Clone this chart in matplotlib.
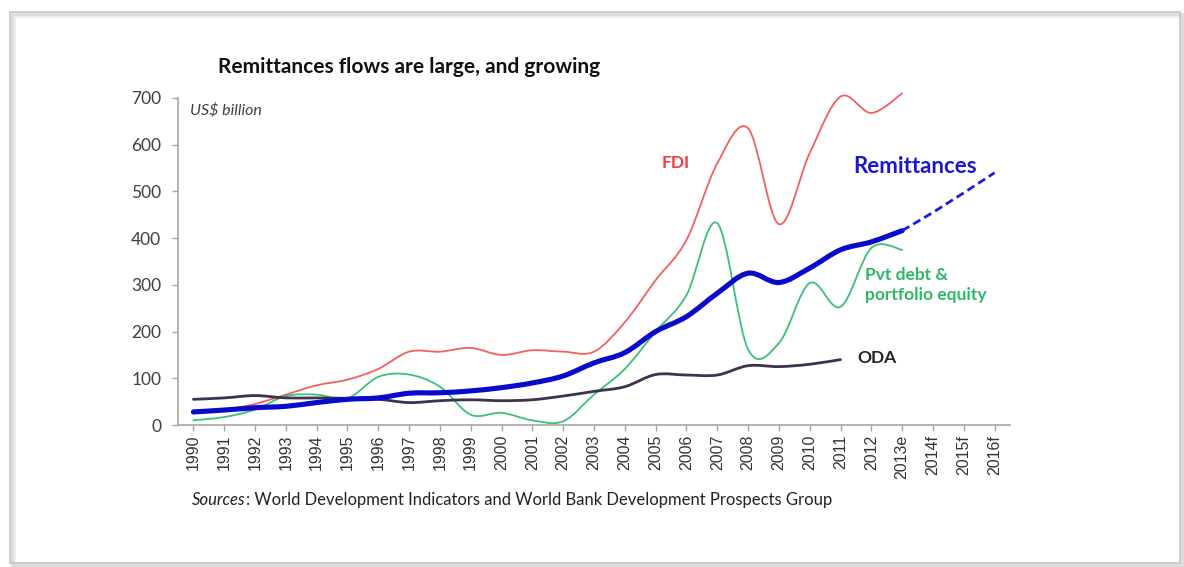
import numpy as np
import matplotlib.pyplot as plt
from matplotlib.path import Path
from matplotlib.patches import PathPatch, Rectangle

# Annual flows to developing countries, US$ billion
years = ['1990', '1991', '1992', '1993', '1994', '1995', '1996', '1997', '1998',
         '1999', '2000', '2001', '2002', '2003', '2004', '2005', '2006', '2007',
         '2008', '2009', '2010', '2011', '2012', '2013e', '2014f', '2015f', '2016f']

remittances = [28, 32, 37, 40, 48, 55, 58, 68, 69, 73, 80, 90, 105, 133, 155,
               200, 232, 282, 325, 305, 336, 375, 392, 416]
remit_forecast = [416, 455, 497, 540]   # 2013e .. 2016f
fdi = [25, 32, 45, 65, 85, 97, 120, 157, 157, 165, 150, 160, 157, 157, 220,
       310, 396, 560, 635, 430, 582, 703, 668, 710]
pvt_debt = [10, 17, 33, 62, 65, 57, 103, 108, 82, 22, 26, 10, 8, 65, 120,
            200, 278, 432, 162, 175, 304, 253, 379, 375]
oda = [55, 58, 63, 58, 58, 57, 55, 48, 52, 54, 52, 54, 62, 72, 82,
       108, 107, 107, 127, 125, 130, 140]

FONT = 'Lato'


def smooth_path(x, y):
    # Bezier segments through every point (tension 1/6), like a smoothed office chart line
    x = np.asarray(x, float)
    y = np.asarray(y, float)
    pts = np.column_stack([x, y])
    n = len(pts)
    verts = [pts[0]]
    codes = [Path.MOVETO]
    for i in range(n - 1):
        p0 = pts[i - 1] if i > 0 else pts[i]
        p1 = pts[i]
        p2 = pts[i + 1]
        p3 = pts[i + 2] if i + 2 < n else pts[i + 1]
        c1 = p1 + (p2 - p0) / 6.0
        c2 = p2 - (p3 - p1) / 6.0
        verts += [c1, c2, p2]
        codes += [Path.CURVE4] * 3
    return Path(verts, codes)


def add_line(ax, x0, values, **kw):
    xs = np.arange(x0, x0 + len(values))
    patch = PathPatch(smooth_path(xs, values), fill=False, capstyle='round',
                      joinstyle='round', clip_on=False, **kw)
    ax.add_patch(patch)
    return patch


fig = plt.figure(figsize=(11.84, 5.67), dpi=100)

# page frame with a soft shadow
for off, col in [(4, '#ECECEC'), (2, '#DCDCDC')]:
    fig.patches.append(Rectangle(((10 + off) / 1184, (4 - off) / 567),
                                 1170 / 1184, 551 / 567, transform=fig.transFigure,
                                 fill=False, edgecolor=col, lw=2.0))
fig.patches.append(Rectangle((10 / 1184, 4 / 567), 1170 / 1184, 551 / 567,
                             transform=fig.transFigure, fill=False,
                             edgecolor='#C4C4C4', lw=1.2))

ax = fig.add_axes([178 / 1184, 1 - 425 / 567, (1010 - 178) / 1184, (425 - 98) / 567])

add_line(ax, 0, fdi, edgecolor='#F0605E', lw=1.3)
add_line(ax, 0, pvt_debt, edgecolor='#3CBF78', lw=1.3)
add_line(ax, 0, oda, edgecolor='#3D3250', lw=2.0)
add_line(ax, 0, remittances, edgecolor='#0A0ACC', lw=3.7)
ax.plot(np.arange(23, 27), remit_forecast, color='#1A1AE0', lw=2.0,
        linestyle=(0, (3, 1.6)), clip_on=False)

ax.set_xlim(-0.5, 26.5)
ax.set_ylim(0, 700)
ax.set_xticks(np.arange(len(years)))
ax.set_xticklabels(years, rotation=90, family='Liberation Sans', fontsize=11.5,
                   color='#333333')
ax.set_yticks(np.arange(0, 701, 100))
ax.set_yticklabels([str(v) for v in range(0, 701, 100)], family=FONT,
                   fontsize=12.5, color='#404040')

for side in ['top', 'right']:
    ax.spines[side].set_visible(False)
for side in ['left', 'bottom']:
    ax.spines[side].set_color('#A6A6A6')
    ax.spines[side].set_linewidth(1.2)
ax.tick_params(axis='both', direction='out', length=4, width=1.0, color='#A6A6A6')
ax.tick_params(axis='y', pad=8)
ax.tick_params(axis='x', pad=3)

ax.text(0.015, 0.985, 'US$ billion', transform=ax.transAxes, ha='left', va='top',
        family=FONT, style='italic', fontsize=11.5, color='#404040')

# series labels
ax.text(15.18, 560, 'FDI', color='#F0403E', family=FONT, fontweight='bold',
        fontsize=12.5, ha='left', va='center')
ax.text(21.4, 553, 'Remittances', color='#1A1ACC', family=FONT, fontweight='bold',
        fontsize=16, ha='left', va='center')
ax.text(21.8, 300, 'Pvt debt &\nportfolio equity', color='#2DB868', family=FONT,
        fontweight='bold', fontsize=12.5, ha='left', va='center', linespacing=1.35)
ax.text(21.55, 143, 'ODA', color='#222222', family=FONT, fontweight='bold',
        fontsize=12.5, ha='left', va='center')

fig.text(218 / 1184, 1 - 67 / 567, 'Remittances flows are large, and growing',
         family=FONT, fontweight='bold', fontsize=15, color='#111111',
         ha='left', va='center')

# source note: italic word followed by plain text
src = fig.text(192 / 1184, 1 - 500 / 567, 'Sources', family=FONT, style='italic',
               fontsize=12, color='#222222', ha='left', va='center')
renderer = fig.canvas.get_renderer()
bb = src.get_window_extent(renderer=renderer)
fig.text(bb.x1 / 1184, 1 - 500 / 567,
         ': World Development Indicators and World Bank Development Prospects Group',
         family=FONT, fontsize=12, color='#222222', ha='left', va='center')

fig.savefig('out.png', dpi=100)
